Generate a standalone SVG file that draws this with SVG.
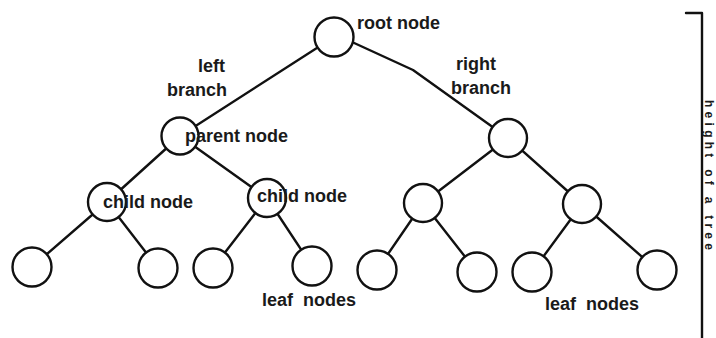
<svg xmlns="http://www.w3.org/2000/svg" width="716" height="338" viewBox="0 0 716 338">
  <style>
    .edge { stroke: #111; stroke-width: 2.4; fill: none; stroke-linecap: round; stroke-linejoin: round; }
    .node { fill: #fff; stroke: #111; stroke-width: 2.4; }
    .lbl { font-family: "Liberation Sans", Arial, sans-serif; font-weight: bold; font-size: 18px; fill: #1a1a1a; white-space: pre; }
  </style>
  <rect width="716" height="338" fill="#fff"/>
  <g id="connectors">
    <line class="edge" x1="334" y1="37" x2="180" y2="136"/>
    <polyline class="edge" points="334,37 352,42 413,70 508,138"/>
    <line class="edge" x1="180" y1="136" x2="107" y2="202"/>
    <line class="edge" x1="180" y1="136" x2="267" y2="198"/>
    <line class="edge" x1="107" y1="202" x2="32" y2="267"/>
    <line class="edge" x1="107" y1="202" x2="158" y2="268"/>
    <line class="edge" x1="267" y1="198" x2="213" y2="268"/>
    <line class="edge" x1="267" y1="198" x2="312" y2="266"/>
    <line class="edge" x1="508" y1="138" x2="423" y2="203"/>
    <line class="edge" x1="508" y1="138" x2="582" y2="204"/>
    <line class="edge" x1="423" y1="203" x2="377" y2="270"/>
    <line class="edge" x1="423" y1="203" x2="477" y2="272"/>
    <line class="edge" x1="582" y1="204" x2="532" y2="272"/>
    <line class="edge" x1="582" y1="204" x2="657" y2="270"/>
  </g>
  <g id="root"><circle class="node" cx="334" cy="37" r="19.5"/><text class="lbl" x="357" y="29">root node</text></g>
  <g id="parent"><circle class="node" cx="180" cy="136" r="18.5"/><text class="lbl" x="185" y="142">parent node</text></g>
  <g id="right"><circle class="node" cx="508" cy="138" r="19"/></g>
  <g id="child-left"><circle class="node" cx="107" cy="202" r="19"/><text class="lbl" x="103" y="208">child node</text></g>
  <g id="child-right"><circle class="node" cx="267" cy="198" r="19"/><text class="lbl" x="257" y="202">child node</text></g>
  <g id="n-rl"><circle class="node" cx="423" cy="203" r="19"/></g>
  <g id="n-rr"><circle class="node" cx="582" cy="204" r="19"/></g>
  <g id="leaf1"><circle class="node" cx="32" cy="267" r="19.5"/></g>
  <g id="leaf2"><circle class="node" cx="158" cy="268" r="19.5"/></g>
  <g id="leaf3"><circle class="node" cx="213" cy="268" r="19.5"/></g>
  <g id="leaf4"><circle class="node" cx="312" cy="266" r="19.5"/></g>
  <g id="leaf5"><circle class="node" cx="377" cy="270" r="19.5"/></g>
  <g id="leaf6"><circle class="node" cx="477" cy="272" r="19.5"/></g>
  <g id="leaf7"><circle class="node" cx="532" cy="272" r="19.5"/></g>
  <g id="leaf8"><circle class="node" cx="657" cy="270" r="19.5"/></g>
  <g id="labels">
    <text class="lbl" x="198" y="72">left</text>
    <text class="lbl" x="167" y="96">branch</text>
    <text class="lbl" x="456" y="70">right</text>
    <text class="lbl" x="451" y="94">branch</text>
    <text class="lbl" x="262" y="306">leaf  nodes</text>
    <text class="lbl" x="545" y="310">leaf  nodes</text>
  </g>
  <g id="height">
    <polyline class="edge" points="686,13 702,13 702,340"/>
    <text class="lbl" style="font-size:12px" transform="translate(705,100) rotate(90)" x="0" y="0" textLength="150" lengthAdjust="spacing">height of a tree</text>
  </g>
</svg>
